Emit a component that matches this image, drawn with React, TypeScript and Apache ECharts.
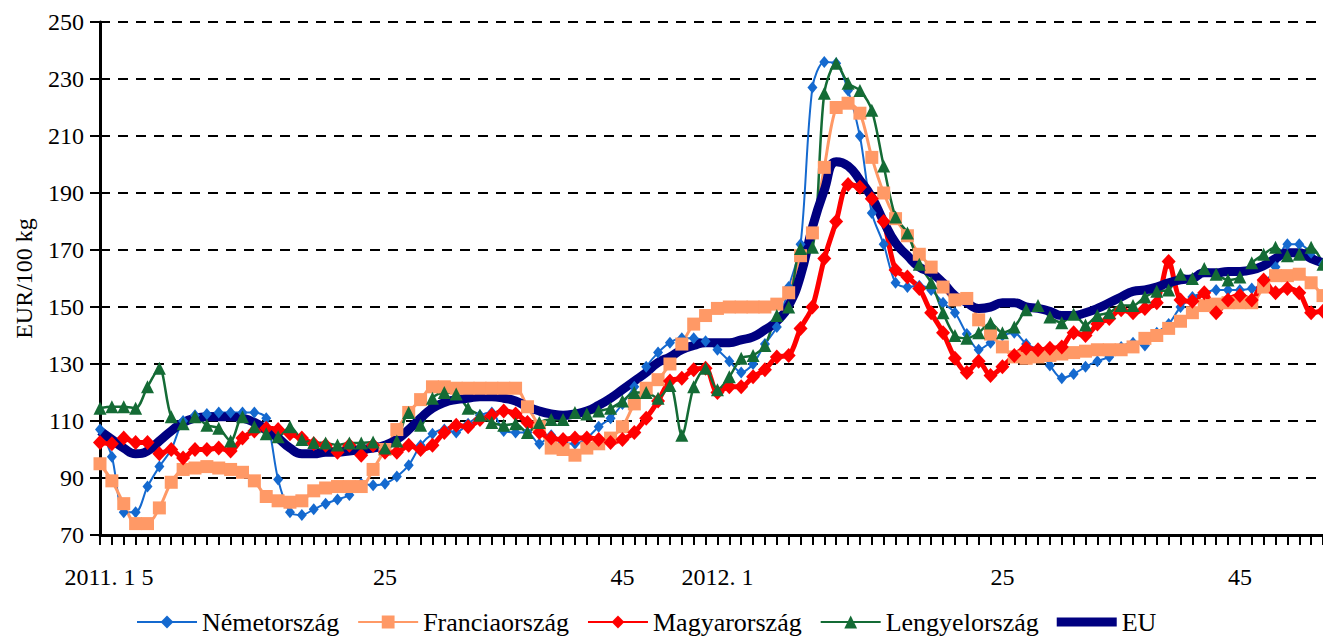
import React, { useEffect, useRef } from "react";
import * as echarts from "echarts";

// Categories: ISO weeks 2011 w1..w52, 2012 w1..w52
const weeks2011: string[] = Array.from({ length: 52 }, (_, i) => `2011. ${i + 1}`);
const weeks2012: string[] = Array.from({ length: 52 }, (_, i) => `2012. ${i + 1}`);
const categories: string[] = [...weeks2011, ...weeks2012];

// Tick labels shown on the x axis
const tickIndices: number[] = [0, 4, 24, 44, 52, 76, 96];
const tickTexts: string[] = ["2011. 1", "5", "25", "45", "2012. 1", "25", "45"];

// EUR/100 kg
const nemetorszag: number[] = [
  107, 97.5, 78, 78, 87, 94, 100, 110, 112, 112.5, 113, 113, 113, 113, 111, 89.5, 78, 77, 79, 81,
  82.5, 84, 88, 87.5, 88, 90.5, 94.5, 101.5, 105.5, 107, 106, 109, 112, 113, 106.5, 106, 106, 102, 105, 102.5,
  102, 104, 108, 111, 116, 122, 129, 134, 137.5, 139, 139, 138, 135, 131, 127, 130, 137, 143, 157, 172,
  227, 236, 235.5, 226, 210, 183, 172, 158.5, 157, 157.5, 156, 151.5, 148, 140.5, 135, 137.5, 140, 141, 137, 135,
  129.5, 125, 126.5, 129, 131, 132.5, 136, 137.5, 136.5, 141, 144, 150, 153.5, 155, 156, 156, 156, 156.5, 158, 164,
  172, 172, 169, 165,
];

const franciaorszag: number[] = [
  95, 89, 81, 74, 74, 79.5, 88.5, 93, 93.5, 94, 93.5, 93, 92, 89, 83.5, 82, 81.5, 82, 85.5, 86.5,
  87, 87, 87, 93, 100, 107, 113, 117.5, 122, 122, 121.5, 121.5, 121.5, 121.5, 121.5, 121.5, 115, 108, 100.5, 100,
  98, 100.5, 102, 104, 108, 116, 121.5, 124.5, 130, 137, 144, 147, 149.5, 150, 150, 150, 150, 151, 155, 168,
  176, 199, 220, 221.5, 218, 202.5, 190, 181, 175, 168.5, 164, 157, 152.5, 153, 145.5, 140.5, 136, 132.5, 132, 132.5,
  133, 133.5, 134, 134.5, 135, 135, 135, 136, 139, 140, 142.5, 145, 148, 150.5, 151, 151.5, 151.5, 151.5, 157, 161,
  161, 161.5, 158.5, 154,
];

const magyarorszag: number[] = [
  102.5, 102, 104, 102.5, 102.5, 98.5, 100, 97, 100, 100, 100.5, 99.5, 104, 106.5, 107.5, 107, 105.5, 104, 102, 101.5,
  99, 101.5, 98, 101.5, 99, 99, 101.5, 100, 101.5, 106, 108.5, 108, 110.5, 112, 113.5, 112.5, 109.5, 106, 104, 103.5,
  104, 104, 103.5, 102.5, 103.5, 106, 111, 117, 124, 125, 128, 128.5, 120, 122, 122, 125.5, 128, 132.5, 133, 142.5,
  150, 167, 180, 193, 192, 188, 180, 163, 160.5, 156.5, 148, 141, 132, 127, 131, 126, 129, 133, 135.5, 135,
  135.5, 136, 141, 140, 144, 146, 149, 148, 149.5, 151.5, 166, 152.5, 152, 155, 148, 152.5, 154, 152.5, 159.5, 155,
  156.5, 155, 148, 148.5,
];

const lengyelorszag: number[] = [
  114.5, 115, 115, 114.5, 122, 128.5, 111.5, 109, 111.5, 108.5, 107.5, 103, 111.5, 108, 105.5, 104.5, 108, 103.5, 102.5, 102.3,
  101.6, 102.3, 102.3, 102.6, 100.5, 103, 113, 108.5, 118, 120, 119.5, 114.5, 112, 109.5, 108.5, 109, 106, 109.5, 110.5, 110.5,
  113, 112.5, 113.5, 114.5, 117, 120, 120, 118, 122.5, 105, 122, 128.5, 121, 125.5, 132, 133, 136.5, 147, 150, 170.5,
  171, 225, 235.5, 228.5, 226, 219, 199.5, 181.6, 176, 165, 158.5, 148, 140, 139, 141, 144.4, 141, 143, 149, 150.5,
  146.5, 144.5, 147.5, 143.7, 147, 148, 150.5, 150.5, 153.5, 155.5, 156, 161.5, 160, 163.5, 161.5, 159.5, 160.5, 165.5, 168.5, 171,
  168, 168.5, 171, 165,
];

const eu: number[] = [
  106.5, 103.5, 100.5, 98.5, 99.5, 103, 106.5, 109.5, 111, 111.5, 111.5, 111.5, 111, 109.5, 107, 104, 100.5, 98.5, 98.5, 99,
  99, 99.5, 100, 100.5, 101.5, 103.5, 107, 111, 114.5, 116.5, 117.5, 118, 118.5, 118.5, 118, 117, 115, 113.5, 112.5, 112,
  112.5, 113.5, 115.5, 118, 121, 124, 127, 130.5, 132.5, 135, 136.5, 137.5, 137.5, 137.5, 138.5, 139.5, 142, 145, 150.5, 161,
  178, 191, 201, 199.5, 194.5, 188.5, 180, 172.5, 168, 164, 162, 158.5, 154, 151.5, 149.5, 150, 151.5, 151.5, 150, 149.5,
  148.5, 147, 147, 148, 149.5, 151.5, 153.5, 155.5, 156, 157, 158.5, 159.5, 160, 162, 162, 162.5, 162.5, 163, 164.5, 167,
  169, 169, 167, 165.5,
];

const FONT = "'Liberation Serif', 'Times New Roman', serif";

export default function App() {
  const ref = useRef<HTMLDivElement>(null);

  useEffect(() => {
    if (!ref.current) return;
    const chart = echarts.init(ref.current, undefined, { renderer: "svg" });
    const smooth = 0.3;
    chart.setOption({
      animation: false,
      backgroundColor: "#ffffff",
      textStyle: { fontFamily: FONT, color: "#000" },
      grid: { left: 100, right: 0, top: 22, bottom: 101, containLabel: false },
      legend: {
        left: 136,
        top: 609,
        padding: 0,
        itemWidth: 60,
        itemHeight: 16,
        itemGap: 18,
        textStyle: { fontFamily: FONT, fontSize: 26, lineHeight: 26, color: "#000" },
        data: [
          "Németország",
          "Franciaország",
          "Magyarország",
          "Lengyelország",
          { name: "EU", icon: "path://M0,0H60V9H0Z" },
        ],
      },
      xAxis: {
        type: "category",
        data: categories,
        boundaryGap: false,
        axisLine: { lineStyle: { color: "#000", width: 3 } },
        axisTick: { interval: 0, length: 10, lineStyle: { color: "#000", width: 2 } },
        axisLabel: {
          interval: (i: number) => tickIndices.includes(i),
          formatter: (_v: string, i: number) => {
            const k = tickIndices.indexOf(i);
            return k >= 0 ? tickTexts[k] : "";
          },
          fontFamily: FONT,
          fontSize: 24,
          color: "#000",
          margin: 30,
        },
        splitLine: { show: false },
      },
      yAxis: {
        type: "value",
        min: 70,
        max: 250,
        interval: 20,
        name: "EUR/100 kg",
        nameLocation: "middle",
        nameGap: 64,
        nameTextStyle: { fontFamily: FONT, fontSize: 24, color: "#000" },
        axisLine: { show: true, lineStyle: { color: "#000", width: 3 } },
        axisTick: { show: true, length: 10, lineStyle: { color: "#000", width: 2 } },
        axisLabel: { fontFamily: FONT, fontSize: 24, color: "#000", margin: 16 },
        splitLine: { show: true, lineStyle: { color: "#000", width: 2, type: [10, 8] } },
      },
      series: [
        {
          name: "Németország",
          type: "line",
          data: nemetorszag,
          smooth,
          showAllSymbol: true,
          symbol: "diamond",
          symbolSize: [10, 12],
          lineStyle: { color: "#1469CF", width: 2 },
          itemStyle: { color: "#1469CF" },
        },
        {
          name: "Franciaország",
          type: "line",
          data: franciaorszag,
          smooth,
          showAllSymbol: true,
          symbol: "rect",
          symbolSize: 13,
          lineStyle: { color: "#FF9966", width: 3 },
          itemStyle: { color: "#FF9966" },
        },
        {
          name: "Magyarország",
          type: "line",
          data: magyarorszag,
          smooth,
          showAllSymbol: true,
          symbol: "diamond",
          symbolSize: [14, 15],
          lineStyle: { color: "#FF0000", width: 5 },
          itemStyle: { color: "#FF0000" },
        },
        {
          name: "Lengyelország",
          type: "line",
          data: lengyelorszag,
          smooth,
          showAllSymbol: true,
          symbol: "triangle",
          symbolSize: 13,
          lineStyle: { color: "#146B35", width: 2.5 },
          itemStyle: { color: "#146B35" },
        },
        {
          name: "EU",
          type: "line",
          data: eu,
          smooth: 0.5,
          symbol: "none",
          lineStyle: { color: "#000080", width: 9 },
          itemStyle: { color: "#000080" },
        },
      ],
    });
    return () => chart.dispose();
  }, []);

  return (
    <div
      ref={ref}
      style={{ position: "fixed", left: 0, top: 0, width: 1323, height: 636, background: "#fff" }}
    />
  );
}
